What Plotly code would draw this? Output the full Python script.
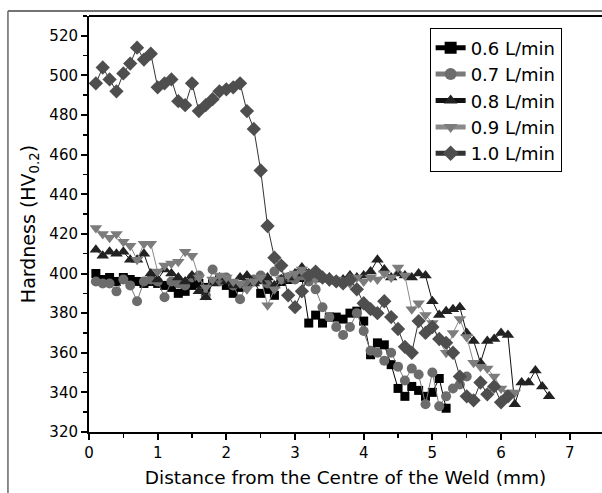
import plotly.graph_objects as go

# ---- data ----
x_06 = [0.1,0.2,0.3,0.4,0.5,0.6,0.7,0.8,0.9,1.0,1.1,1.2,1.3,1.4,1.5,1.6,1.7,1.8,1.9,2.0,
        2.1,2.2,2.3,2.4,2.5,2.6,2.7,2.8,2.9,3.0,3.1,3.2,3.3,3.4,3.5,3.6,3.7,3.8,3.9,4.0,
        4.1,4.2,4.3,4.4,4.5,4.6,4.7,4.8,4.9,5.0,5.1,5.2]
hv_06 = [400,397,398,396,398,397,396,395,396,395,394,393,390,391,394,395,393,396,397,394,
         390,393,395,396,390,392,389,396,397,399,398,375,379,375,378,378,377,380,381,376,
         359,365,364,354,342,338,343,341,338,340,347,332]

x_07 = [0.1,0.2,0.3,0.4,0.5,0.6,0.7,0.8,0.9,1.0,1.1,1.2,1.3,1.4,1.5,1.6,1.7,1.8,1.9,2.0,
        2.1,2.2,2.3,2.4,2.5,2.6,2.7,2.8,2.9,3.0,3.1,3.2,3.3,3.4,3.5,3.6,3.7,3.8,3.9,4.0,
        4.1,4.2,4.3,4.4,4.5,4.6,4.7,4.8,4.9,5.0,5.1,5.2,5.3,5.4,5.5]
hv_07 = [396,395,395,391,397,394,386,396,397,396,388,396,395,394,398,399,389,402,396,398,
         394,387,395,397,399,395,401,397,398,397,399,396,392,383,378,373,369,373,380,371,
         361,360,356,360,353,346,352,349,334,350,333,338,342,344,348]

x_08 = [0.1,0.2,0.3,0.4,0.5,0.6,0.7,0.8,0.9,1.0,1.1,1.2,1.3,1.4,1.5,1.6,1.7,1.8,1.9,2.0,
        2.1,2.2,2.3,2.4,2.5,2.6,2.7,2.8,2.9,3.0,3.1,3.2,3.3,3.4,3.5,3.6,3.7,3.8,3.9,4.0,
        4.1,4.2,4.3,4.4,4.5,4.6,4.7,4.8,4.9,5.0,5.1,5.2,5.3,5.4,5.5,5.6,5.7,5.8,5.9,6.0,
        6.1,6.2,6.3,6.4,6.5,6.6,6.7]
hv_08 = [412,409,411,410,411,407,407,410,400,397,402,400,398,396,399,391,388,395,398,396,
         394,398,399,395,396,398,394,397,398,400,403,400,398,397,398,396,397,399,398,399,
         401,407,402,398,400,399,398,400,399,386,379,381,382,383,370,366,355,366,367,370,
         369,334,345,345,351,343,338]

x_09 = [0.1,0.2,0.3,0.4,0.5,0.6,0.7,0.8,0.9,1.0,1.1,1.2,1.3,1.4,1.5,1.6,1.7,1.8,1.9,2.0,
        2.1,2.2,2.3,2.4,2.5,2.6,2.7,2.8,2.9,3.0,3.1,3.2,3.3,3.4,3.5,3.6,3.7,3.8,3.9,4.0,
        4.1,4.2,4.3,4.4,4.5,4.6,4.7,4.8,4.9,5.0,5.1,5.2,5.3,5.4,5.5,5.6,5.7,5.8,5.9,6.0,
        6.1,6.2]
hv_09 = [423,420,418,420,416,414,407,415,415,401,404,405,406,411,409,398,393,397,399,398,
         396,395,392,396,398,384,392,397,399,400,402,399,397,398,396,397,396,395,398,396,
         398,397,400,398,403,399,382,385,379,375,366,360,370,377,368,355,353,352,348,342,
         340,340]

x_10 = [0.1,0.2,0.3,0.4,0.5,0.6,0.7,0.8,0.9,1.0,1.1,1.2,1.3,1.4,1.5,1.6,1.7,1.8,1.9,2.0,
        2.1,2.2,2.3,2.4,2.5,2.6,2.7,2.8,2.9,3.0,3.1,3.2,3.3,3.4,3.5,3.6,3.7,3.8,3.9,4.0,
        4.1,4.2,4.3,4.4,4.5,4.6,4.7,4.8,4.9,5.0,5.1,5.2,5.3,5.4,5.5,5.6,5.7,5.8,5.9,6.0,
        6.1]
hv_10 = [496,504,498,492,501,506,514,508,511,494,496,498,487,485,496,482,485,488,492,493,
         494,496,482,473,452,424,408,404,389,383,391,399,401,398,397,396,395,397,392,385,
         382,380,386,378,372,363,360,376,370,373,367,365,360,348,338,336,345,339,343,335,
         338]

series_names = ["0.6 L/min", "0.7 L/min", "0.8 L/min", "0.9 L/min", "1.0 L/min"]
x_tick_vals = [0, 1, 2, 3, 4, 5, 6, 7]
y_tick_vals = [320, 340, 360, 380, 400, 420, 440, 460, 480, 500, 520]

# ---- styling ----
styles = [
    dict(symbol="square", size=9, color="#000000", line="#000000"),
    dict(symbol="circle", size=10, color="#6c6c6c", line="#7a7a7a"),
    dict(symbol="triangle-up", size=11, color="#222222", line="#111111"),
    dict(symbol="triangle-down", size=11, color="#7c7c7c", line="#8a8a8a"),
    dict(symbol="diamond", size=11, color="#4e4e4e", line="#333333"),
]
xs = [x_06, x_07, x_08, x_09, x_10]
ys = [hv_06, hv_07, hv_08, hv_09, hv_10]

FONT = "'DejaVu Sans', Arial, sans-serif"

fig = go.Figure()
for name, xv, yv, st in zip(series_names, xs, ys, styles):
    fig.add_trace(go.Scatter(
        x=xv, y=yv, name=name, mode="lines+markers",
        line=dict(color=st["line"], width=1),
        marker=dict(symbol=st["symbol"], size=st["size"], color=st["color"],
                    line=dict(width=0)),
    ))

fig.update_layout(
    width=602, height=493,
    margin=dict(l=89, r=0, t=16, b=61, autoexpand=False),
    paper_bgcolor="white", plot_bgcolor="white",
    font=dict(family=FONT, color="black", size=15),
    showlegend=True,
    hovermode=False,
    legend=dict(
        x=0.664, y=0.97, xanchor="left", yanchor="top",
        bordercolor="black", borderwidth=1, bgcolor="white",
        font=dict(family=FONT, size=18, color="black"),
        tracegroupgap=0, itemsizing="constant",
    ),
    shapes=[
        # outer figure frame (top and left)
        dict(type="line", xref="paper", yref="paper", x0=-0.158, x1=1.05, y0=1.012, y1=1.012,
             line=dict(color="#444444", width=1.5)),
        dict(type="line", xref="paper", yref="paper", x0=-0.158, x1=-0.158, y0=1.012, y1=-0.2,
             line=dict(color="#666666", width=1.5)),
        # top border of the plot frame
        dict(type="line", xref="paper", yref="paper", x0=0, x1=1.05, y0=1, y1=1,
             line=dict(color="black", width=2)),
    ],
)

fig.update_xaxes(
    range=[0, 7.47], showline=True, linecolor="black", linewidth=2, mirror=False,
    ticks="outside", ticklen=6, tickwidth=2, tickcolor="black",
    tickvals=x_tick_vals, showgrid=False, zeroline=False, automargin=False,
    minor=dict(ticks="outside", ticklen=4, tickwidth=1.5, tickcolor="black", dtick=0.5, tick0=0,
               showgrid=False),
    tickfont=dict(size=15),
    title=dict(text="Distance from the Centre of the Weld (mm)", font=dict(size=18.5), standoff=10),
)
fig.update_yaxes(
    range=[320, 530], showline=True, linecolor="black", linewidth=2, mirror=False,
    ticks="outside", ticklen=6, tickwidth=2, tickcolor="black",
    tickvals=y_tick_vals, showgrid=False, zeroline=False, automargin=False,
    minor=dict(ticks="outside", ticklen=4, tickwidth=1.5, tickcolor="black", dtick=10, tick0=320,
               showgrid=False),
    tickfont=dict(size=15),
    title=dict(text="Hardness (HV<sub>0.2</sub>)", font=dict(size=19), standoff=9),
)

fig.write_html(
    "out.html",
    config={"displayModeBar": False, "staticPlot": True},
    post_script="document.body.style.margin='0';document.body.style.overflow='hidden';",
)
